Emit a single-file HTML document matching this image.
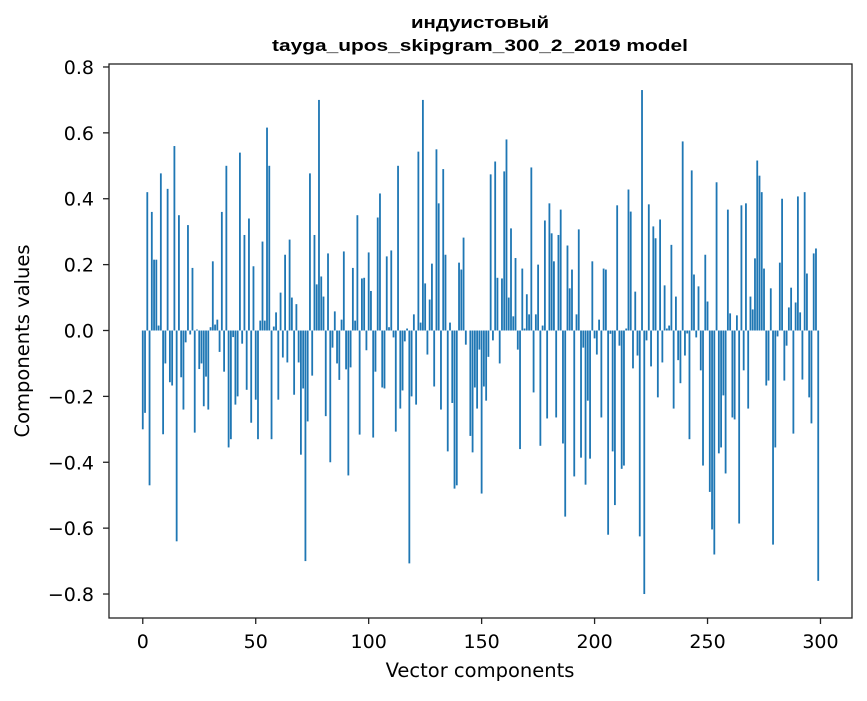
<!DOCTYPE html>
<html><head><meta charset="utf-8"><style>
body{margin:0;background:#fff;}
svg text{font-family:"DejaVu Sans","Liberation Sans",sans-serif;}
svg text.ttl{font-family:"Liberation Sans","DejaVu Sans",sans-serif;}
</style></head><body>
<svg id="chart" width="867" height="696" viewBox="0 0 867 696" xmlns="http://www.w3.org/2000/svg">
<rect width="867" height="696" fill="#fff"/>
<text class="ttl" x="480" y="28" text-anchor="middle" font-size="17" font-weight="bold" textLength="138" lengthAdjust="spacingAndGlyphs">индуистовый</text>
<text class="ttl" x="480" y="51" text-anchor="middle" font-size="17" font-weight="bold" textLength="416" lengthAdjust="spacingAndGlyphs">tayga_upos_skipgram_300_2_2019 model</text>
<g id="bars"></g>
<g id="axes"></g>
<text x="480" y="677" text-anchor="middle" font-size="19.5">Vector components</text>
<text transform="translate(29,341) rotate(-90)" text-anchor="middle" font-size="19.5">Components values</text>
</svg>
<script>
const values = [
-0.30,-0.25,0.42,-0.47,0.36,0.215,0.215,0.015,0.477,-0.315,
-0.10,0.43,-0.157,-0.167,0.56,-0.64,0.35,-0.142,-0.24,-0.036,
0.32,-0.012,0.19,-0.31,0.003,-0.117,-0.10,-0.23,-0.14,-0.24,
0.01,0.21,0.018,0.033,-0.065,0.36,-0.125,0.50,-0.355,-0.33,
-0.02,-0.225,-0.20,0.54,-0.04,0.29,-0.18,0.34,-0.28,0.195,
-0.21,-0.33,0.03,0.27,0.03,0.616,0.50,-0.33,0.012,0.055,
-0.21,0.115,-0.082,0.23,-0.097,0.276,0.10,-0.195,0.08,-0.097,
-0.377,-0.176,-0.70,-0.276,0.477,-0.137,0.29,0.14,0.70,0.164,
0.103,-0.26,0.234,-0.40,-0.052,0.058,-0.10,-0.15,0.033,0.24,
-0.118,-0.44,-0.112,0.19,0.03,0.35,-0.316,0.158,0.16,-0.06,
0.237,0.12,-0.325,-0.125,0.343,0.416,-0.173,-0.176,0.225,0.01,
0.243,-0.021,-0.307,0.50,-0.237,-0.182,-0.033,0.006,-0.707,-0.20,
0.049,-0.225,0.543,0.024,0.70,0.143,-0.073,0.094,0.203,-0.17,
0.55,0.386,-0.24,0.49,0.23,-0.367,0.024,-0.22,-0.48,-0.47,
0.206,0.185,0.282,-0.043,0.0,-0.32,-0.37,-0.173,-0.237,-0.058,
-0.495,-0.17,-0.213,-0.08,0.474,-0.03,0.513,0.16,-0.10,0.158,
0.483,0.58,0.10,0.31,0.043,0.22,-0.058,-0.36,0.188,0.006,
0.11,0.049,0.495,-0.188,0.049,0.20,-0.35,0.015,0.334,-0.267,
0.386,0.295,0.21,-0.264,0.29,0.367,-0.343,-0.565,0.258,0.128,
0.185,-0.443,0.049,0.307,-0.386,-0.052,-0.468,-0.213,-0.389,0.21,
-0.024,-0.073,0.033,-0.264,0.188,0.185,-0.62,-0.01,-0.367,-0.53,
0.38,-0.046,-0.42,-0.41,0.006,0.428,0.361,-0.115,0.118,-0.076,
-0.625,0.73,-0.80,-0.03,0.383,-0.109,0.316,0.28,-0.203,0.337,
-0.097,0.137,0.006,0.015,0.26,-0.237,0.103,-0.09,-0.16,0.574,
-0.076,-0.009,-0.33,0.486,0.17,-0.021,0.134,-0.121,-0.41,0.23,
0.088,-0.49,-0.604,-0.68,0.45,-0.373,-0.355,-0.197,-0.434,0.367,
0.052,-0.264,-0.27,0.046,-0.586,0.38,-0.121,0.386,-0.237,0.103,
0.064,0.219,0.516,0.47,0.42,0.188,-0.167,-0.152,0.128,-0.65,
-0.355,-0.018,0.206,0.40,-0.152,-0.046,0.07,0.13,-0.313,0.085,
0.407,0.055,-0.149,0.42,0.173,-0.203,-0.282,0.234,0.249,-0.76
];
const xTicks = [0,50,100,150,200,250,300];
const yTicks = [0.8,0.6,0.4,0.2,0.0,-0.2,-0.4,-0.6,-0.8];
const yTickLabels = ["0.8","0.6","0.4","0.2","0.0","\u22120.2","\u22120.4","\u22120.6","\u22120.8"];

const L=109,R=852,T=64,B=618;
const xmin=-14.95,xmax=313.95;
const X=v=>L+(v-xmin)/(xmax-xmin)*(R-L);
const Y0=330.5,YS=329.4;
const Y=v=>Y0-v*YS;
const NS="http://www.w3.org/2000/svg";
const bars=document.getElementById('bars');
values.forEach((v,i)=>{
  const r=document.createElementNS(NS,'rect');
  const x0=X(i-0.4),x1=X(i+0.4);
  r.setAttribute('x',x0);r.setAttribute('width',x1-x0);
  r.setAttribute('y',Math.min(Y(v),Y(0)));r.setAttribute('height',Math.abs(Y(v)-Y(0)));
  r.setAttribute('fill','#1f77b4');
  
  
  bars.appendChild(r);
});
const ax=document.getElementById('axes');
const fr=document.createElementNS(NS,'rect');
fr.setAttribute('x',L);fr.setAttribute('y',T);fr.setAttribute('width',R-L);fr.setAttribute('height',B-T);
fr.setAttribute('fill','none');fr.setAttribute('stroke','#222');fr.setAttribute('stroke-width','1.3');


ax.appendChild(fr);
xTicks.forEach(t=>{
  const l=document.createElementNS(NS,'line');
  l.setAttribute('x1',X(t));l.setAttribute('x2',X(t));l.setAttribute('y1',B);l.setAttribute('y2',B+6);l.setAttribute('stroke','#222');l.setAttribute('stroke-width','1.3');
  
  
  ax.appendChild(l);
  const tx=document.createElementNS(NS,'text');
  tx.setAttribute('x',X(t));tx.setAttribute('y',B+30);tx.setAttribute('text-anchor','middle');tx.setAttribute('font-size','19');
  tx.textContent=t;
  
  
  ax.appendChild(tx);
});
yTicks.forEach((t,k)=>{
  const l=document.createElementNS(NS,'line');
  l.setAttribute('x1',L-6);l.setAttribute('x2',L);l.setAttribute('y1',Y(t));l.setAttribute('y2',Y(t));l.setAttribute('stroke','#222');l.setAttribute('stroke-width','1.3');
  
  
  ax.appendChild(l);
  const tx=document.createElementNS(NS,'text');
  tx.setAttribute('x',L-15);tx.setAttribute('y',Y(t)+7);tx.setAttribute('text-anchor','end');tx.setAttribute('font-size','19');
  tx.textContent=yTickLabels[k];
  
  
  ax.appendChild(tx);
});
</script>
</body></html>
